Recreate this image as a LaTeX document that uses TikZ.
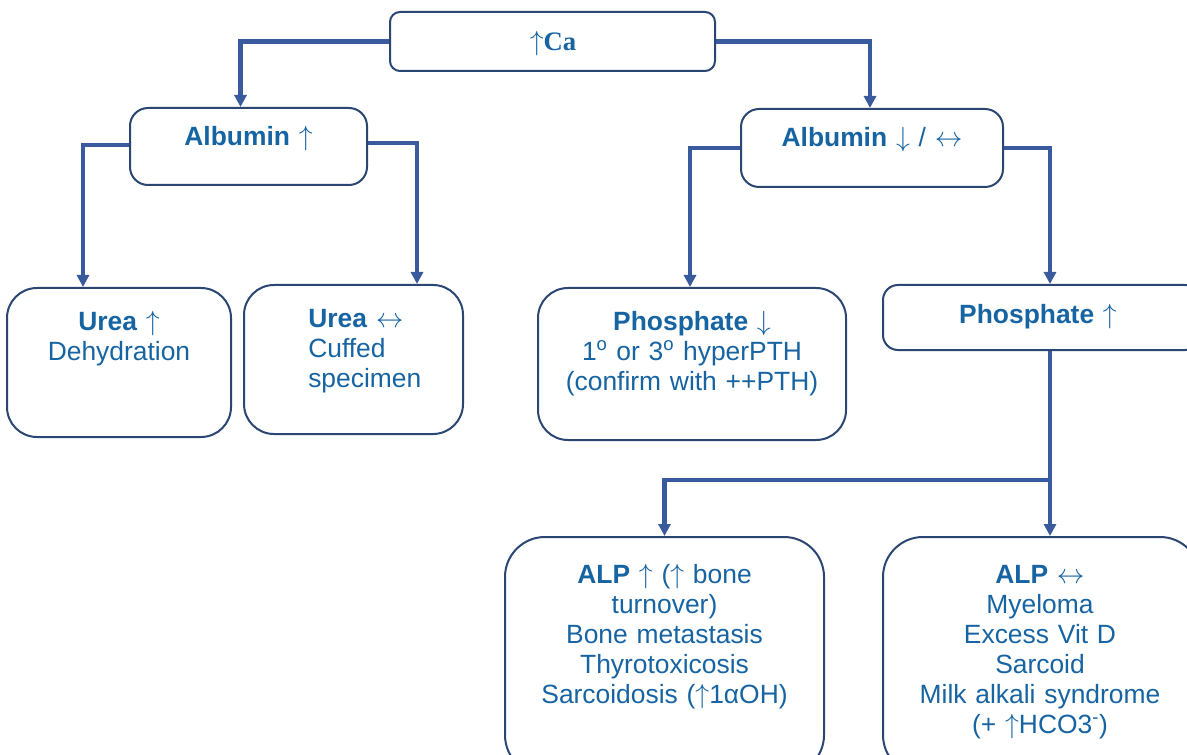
\documentclass[tikz,border=0pt]{standalone}
\usepackage{fontspec}
\setmainfont{Liberation Sans}
\newfontfamily\serifca{Liberation Serif}
\usetikzlibrary{arrows.meta,calc}
\definecolor{txtblue}{HTML}{1764A2}
\definecolor{boxnavy}{HTML}{2B4672}
\definecolor{linkblue}{HTML}{3A5A9E}
% thin arrow glyphs
\newcommand\upar{\ensuremath{\uparrow}}
\newcommand\dnar{\ensuremath{\downarrow}}
\newcommand\lrar{\ensuremath{\leftrightarrow}}
\begin{document}
\begin{tikzpicture}[x=0.75pt,y=-0.75pt,
  box/.style={draw=boxnavy,line width=1.5pt,fill=white,rectangle,inner sep=0pt},
  txt/.style={text=txtblue,inner sep=0pt,anchor=base,align=center,
    font=\fontsize{19.8}{22.6}\selectfont},
  conn/.style={draw=linkblue,line width=3.2pt,
    -{Triangle[width=9pt,length=9pt]}},
  plain/.style={draw=linkblue,line width=3.2pt}]
\useasboundingbox (0,0) rectangle (1187,755);
\clip (0,0) rectangle (1187,755);

% boxes
\node[box,minimum width=243.75pt,minimum height=44.25pt,rounded corners=7.5pt] (ca) at (552.5,41.5) {};
\node[box,minimum width=177.75pt,minimum height=57.75pt,rounded corners=13.5pt] (alb1) at (248.5,146.5) {};
\node[box,minimum width=196.5pt,minimum height=58.5pt,rounded corners=13.5pt] (alb2) at (872,148) {};
\node[box,minimum width=168pt,minimum height=111.75pt,rounded corners=22.5pt] (u1) at (119,362.5) {};
\node[box,minimum width=164.25pt,minimum height=111.75pt,rounded corners=22.5pt] (u2) at (353.5,359.5) {};
\node[box,minimum width=231pt,minimum height=114pt,rounded corners=22.5pt] (p1) at (692,364) {};
\node[box,minimum width=237.75pt,minimum height=48.75pt,rounded corners=11.25pt] (p2) at (1041.5,317.5) {};
\node[box,minimum width=239.25pt,minimum height=178.5pt,rounded corners=30pt] (alp1) at (664.5,656) {};
\node[box,minimum width=237.75pt,minimum height=178.5pt,rounded corners=30pt] (alp2) at (1041.5,656) {};

% texts
\node[txt,font=\fontsize{20}{22.6}\selectfont\serifca] (tca) at (553,51) {\upar\textbf{Ca}};
\node[txt,text width=170pt] (talb1) at (248.5,146) {\textbf{Albumin} \upar};
\node[txt,text width=190pt] (talb2) at (872,146.7) {\textbf{Albumin} \dnar{} / \lrar};
\node[txt,text width=160pt] (tu1) at (119,330.7) {\textbf{Urea} \upar\\Dehydration};
\node[txt,text width=150pt,align=left,anchor=base west] (tu2) at (308,327.7) {\textbf{Urea} \lrar\\Cuffed\\specimen};
\node[txt,text width=225pt] (tp1) at (692,330.7) {\textbf{Phosphate} \dnar\\1\textsuperscript{o} or 3\textsuperscript{o} hyperPTH\\(confirm with ++PTH)};
\node[txt,text width=225pt] (tp2) at (1038,323) {\textbf{Phosphate} \upar};
\node[txt,text width=230pt] (talp1) at (664.5,583) {\textbf{ALP} \upar{} (\upar{} bone\\turnover)\\Bone metastasis\\Thyrotoxicosis\\Sarcoidosis (\upar1αOH)};
\node[txt,text width=230pt] (talp2) at (1040,583) {\textbf{ALP} \lrar\\Myeloma\\Excess Vit D\\Sarcoid\\Milk alkali syndrome\\(+ \upar HCO3\textsuperscript{-})};

% connectors
\draw[conn] (ca.west) -| ($(alb1.north)+(-8,0)$);
\draw[conn] (ca.east) -| ($(alb2.north)+(-2,0)$);
\draw[conn] ($(alb1.west)+(0,-1.5)$) -| ($(u1.north)+(-36,0)$);
\draw[conn] ($(alb1.east)+(0,-3.5)$) -| ($(u2.north)+(63.5,0)$);
\draw[conn] (alb2.west) -| ($(p1.north)+(-2,0)$);
\draw[conn] (alb2.east) -| ($(p2.north)+(8.5,0)$);
\coordinate (split) at (1050,480);
\draw[plain] ($(p2.south)+(8.5,0)$) -- (split);
\draw[conn] (split) -- ($(alp2.north)+(8.5,0)$);
\draw[conn] (split) -| (alp1.north);
\end{tikzpicture}
\end{document}
